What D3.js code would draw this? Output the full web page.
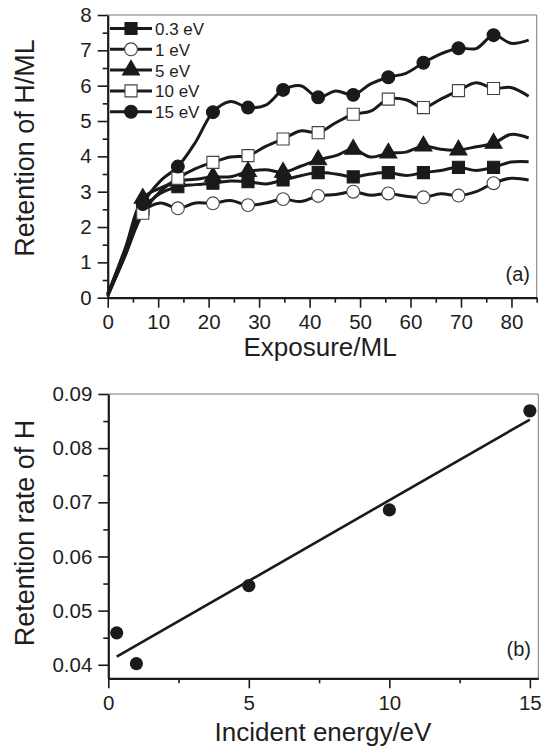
<!DOCTYPE html>
<html lang="en">
<head>
<meta charset="UTF-8">
<title>Retention of H</title>
<script src="https://cdn.jsdelivr.net/npm/d3@7"></script>
<style>
    body { margin: 0; background: #fff; }
    svg { display: block; font-family: "Liberation Sans", Arial, Helvetica, sans-serif; }
    .tick text { fill: #1e1e1e; }
</style>
</head>
<body>
<div id="chart"></div>
<script>
// panel (a): retention vs exposure, sampled every half marker step
const exposure = [0, 3.475, 6.95, 10.4, 13.9, 17.4, 20.85, 24.3, 27.8, 31.3, 34.75, 38.2, 41.7,
                  45.2, 48.65, 52.1, 55.6, 59.1, 62.55, 66, 69.5, 73, 76.45, 79.9, 83.4];
const seriesNames = ["0.3 eV", "1 eV", "5 eV", "10 eV", "15 eV"];
const ret03 = [0.1, 1.3, 2.5, 2.95, 3.14, 3.2, 3.24, 3.3, 3.28, 3.22, 3.33, 3.45, 3.54, 3.5, 3.42,
               3.5, 3.54, 3.46, 3.54, 3.6, 3.69, 3.6, 3.69, 3.84, 3.85];
const ret1  = [0.05, 1.2, 2.42, 2.68, 2.53, 2.68, 2.67, 2.75, 2.62, 2.68, 2.79, 2.72, 2.88, 2.92, 3.0,
               2.9, 2.95, 2.87, 2.84, 2.94, 2.89, 3.0, 3.24, 3.38, 3.33];
const ret5  = [0.1, 1.4, 2.81, 3.1, 3.3, 3.35, 3.42, 3.42, 3.57, 3.62, 3.55, 3.72, 3.9, 4.02, 4.2,
               3.98, 4.09, 4.12, 4.29, 4.2, 4.18, 4.27, 4.37, 4.62, 4.52];
const ret10 = [0.05, 1.2, 2.39, 3.0, 3.38, 3.65, 3.83, 3.98, 4.02, 4.28, 4.49, 4.72, 4.67, 4.95, 5.19,
               5.28, 5.62, 5.6, 5.38, 5.62, 5.86, 6.08, 5.92, 5.95, 5.7];
const ret15 = [0.1, 1.3, 2.65, 3.3, 3.71, 4.4, 5.25, 5.55, 5.38, 5.45, 5.88, 6.0, 5.67, 5.85, 5.74,
               6.05, 6.24, 6.35, 6.65, 6.9, 7.06, 7.05, 7.43, 7.2, 7.29];

// panel (b): retention rate vs incident energy
const energy = [0.3, 1, 5, 10, 15];
const rate = [0.0459, 0.0402, 0.0546, 0.0686, 0.0869];

const allSeries = [ret03, ret1, ret5, ret10, ret15];
const symbols = [
    {type: d3.symbolSquare, fill: "#1a1a1a", size: 145},
    {type: d3.symbolCircle, fill: "#fff", size: 130},
    {type: d3.symbolTriangle, fill: "#1a1a1a", size: 125},
    {type: d3.symbolSquare, fill: "#fff", size: 145},
    {type: d3.symbolCircle, fill: "#1a1a1a", size: 130}
];
const ink = "#1a1a1a";

const W = 543, H = 747;
const svg = d3.select("#chart").append("svg")
    .attr("width", W).attr("height", H);

function drawAxes(x, y, xMajor, xMinor, yMajor, yMinor, yFmt) {
    const xr = x.range(), yr = y.range();
    // thin frame on top and right
    svg.append("line").attr("x1", xr[0]).attr("x2", xr[1]).attr("y1", yr[1]).attr("y2", yr[1])
        .attr("stroke", "#777").attr("stroke-width", 1);
    svg.append("line").attr("x1", xr[1]).attr("x2", xr[1]).attr("y1", yr[1]).attr("y2", yr[0])
        .attr("stroke", "#777").attr("stroke-width", 1);

    const gx = svg.append("g").attr("transform", `translate(0,${yr[0]})`);
    gx.call(d3.axisBottom(x).tickValues(xMinor).tickSize(5).tickSizeOuter(0).tickFormat(""));
    gx.call(g => g.select(".domain").remove());
    const gx2 = svg.append("g").attr("transform", `translate(0,${yr[0]})`)
        .call(d3.axisBottom(x).tickValues(xMajor).tickSize(10).tickSizeOuter(0).tickPadding(7));
    gx2.selectAll("text").attr("font-size", 20.5);

    const gy = svg.append("g").attr("transform", `translate(${xr[0]},0)`);
    gy.call(d3.axisLeft(y).tickValues(yMinor).tickSize(5).tickSizeOuter(0).tickFormat(""));
    gy.call(g => g.select(".domain").remove());
    const gy2 = svg.append("g").attr("transform", `translate(${xr[0]},0)`)
        .call(d3.axisLeft(y).tickValues(yMajor).tickSize(10).tickSizeOuter(0).tickPadding(6).tickFormat(yFmt));
    gy2.selectAll("text").attr("font-size", 20.5);

    svg.selectAll(".tick line").attr("stroke", ink).attr("stroke-width", 1.6);
    svg.selectAll(".domain").attr("stroke", ink).attr("stroke-width", 2.2);
}

// ---------- panel (a) ----------
const xa = d3.scaleLinear().domain([0, 85]).range([107.7, 536.7]);
const ya = d3.scaleLinear().domain([0, 8]).range([297.7, 15]);

drawAxes(xa, ya, d3.range(0, 81, 10), d3.range(5, 86, 10),
         d3.range(0, 9, 1), d3.range(0.5, 8, 1), d3.format("d"));

const line = d3.line()
    .x((d, i) => xa(exposure[i]))
    .y(d => ya(d))
    .curve(d3.curveCatmullRom.alpha(0.5));

allSeries.forEach((vals, s) => {
    svg.append("path")
        .attr("d", line(vals))
        .attr("fill", "none")
        .attr("stroke", ink)
        .attr("stroke-width", 3)
        .attr("stroke-linejoin", "round");
});

allSeries.forEach((vals, s) => {
    const sym = symbols[s];
    const pts = vals.map((v, i) => ({x: exposure[i], y: v, i})).filter(d => d.i > 0 && d.i % 2 === 0 && d.i <= 22);
    svg.append("g").selectAll("path")
        .data(pts)
        .join("path")
        .attr("transform", d => `translate(${xa(d.x)},${ya(d.y)})`)
        .attr("d", d3.symbol().type(sym.type).size(sym.size))
        .attr("fill", sym.fill)
        .attr("stroke", sym.fill === "#fff" ? "#444" : ink)
        .attr("stroke-width", 1.1);
});

// legend
const legend = svg.append("g").attr("transform", "translate(110,28.5)");
seriesNames.forEach((name, s) => {
    const row = legend.append("g").attr("transform", `translate(0,${s * 20.8})`);
    row.append("line").attr("x1", 0).attr("x2", 42).attr("stroke", ink).attr("stroke-width", 3);
    row.append("path")
        .attr("transform", "translate(21,0)")
        .attr("d", d3.symbol().type(symbols[s].type).size(symbols[s].size))
        .attr("fill", symbols[s].fill)
        .attr("stroke", symbols[s].fill === "#fff" ? "#444" : ink)
        .attr("stroke-width", 1.1);
    row.append("text").attr("x", 45).attr("y", 6.5)
        .attr("font-size", 17).attr("fill", "#1e1e1e").text(name);
});

svg.append("text").attr("x", 530).attr("y", 281).attr("text-anchor", "end")
    .attr("font-size", 20).attr("fill", "#1e1e1e").text("(a)");

svg.append("text").attr("x", 320).attr("y", 356).attr("text-anchor", "middle")
    .attr("font-size", 26).attr("fill", "#1e1e1e").text("Exposure/ML");
svg.append("text").attr("transform", "translate(34,148) rotate(-90)").attr("text-anchor", "middle")
    .attr("font-size", 27).attr("fill", "#1e1e1e").text("Retention of H/ML");

// ---------- panel (b) ----------
const xb = d3.scaleLinear().domain([0, 15.3]).range([108.3, 538.3]);
const yb = d3.scaleLinear().domain([0.0375, 0.09]).range([678.3, 394]);

drawAxes(xb, yb, [0, 5, 10, 15], [2.5, 7.5, 12.5],
         d3.range(0.04, 0.0901, 0.01), d3.range(0.045, 0.09, 0.01), d3.format(".2f"));

// least-squares fit of the points
const mx = d3.mean(energy), my = d3.mean(rate);
const slope = d3.sum(energy, (e, i) => (e - mx) * (rate[i] - my)) / d3.sum(energy, e => (e - mx) ** 2);
const icpt = my - slope * mx;
const fitX = [energy[0], energy[energy.length - 1]];
svg.append("path")
    .attr("d", d3.line().x(d => xb(d)).y(d => yb(icpt + slope * d))(fitX))
    .attr("stroke", ink).attr("stroke-width", 2.6).attr("fill", "none");

svg.append("g").selectAll("circle")
    .data(energy)
    .join("circle")
    .attr("cx", d => xb(d))
    .attr("cy", (d, i) => yb(rate[i]))
    .attr("r", 6.6)
    .attr("fill", ink);

svg.append("text").attr("x", 531).attr("y", 656).attr("text-anchor", "end")
    .attr("font-size", 20).attr("fill", "#1e1e1e").text("(b)");

svg.append("text").attr("x", 323).attr("y", 741).attr("text-anchor", "middle")
    .attr("font-size", 26).attr("fill", "#1e1e1e").text("Incident energy/eV");
svg.append("text").attr("transform", "translate(34,533) rotate(-90)").attr("text-anchor", "middle")
    .attr("font-size", 27).attr("fill", "#1e1e1e").text("Retention rate of H");
</script>
</body>
</html>
